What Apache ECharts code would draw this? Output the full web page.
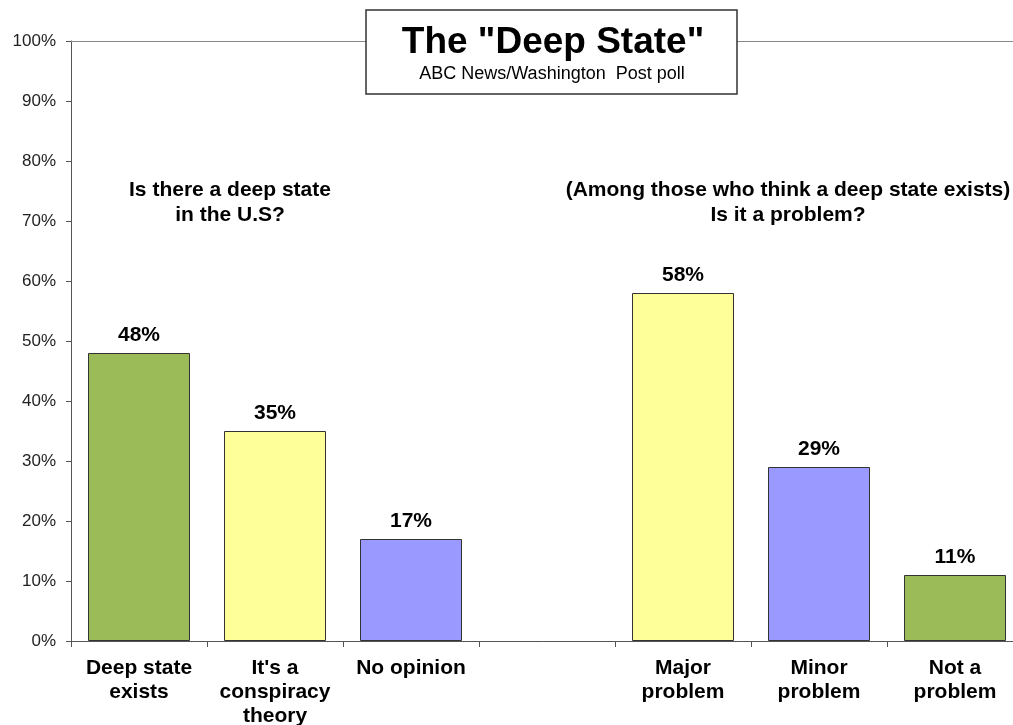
<!DOCTYPE html>
<html><head><meta charset="utf-8">
<script src="https://cdn.jsdelivr.net/npm/echarts@6/dist/echarts.min.js"></script>
<style>html,body{margin:0;padding:0;background:#fff}#c{width:1013px;height:725px}</style>
</head><body><div id="c"></div>
<script>
const categories = ["Deep state\nexists", "It's a\nconspiracy\ntheory", "No opinion", "", "Major\nproblem", "Minor\nproblem", "Not a\nproblem"];
const values = [48, 35, 17, null, 58, 29, 11];
const barColors = ["#9BBB59", "#FFFF99", "#9999FF", "#ffffff", "#FFFF99", "#9999FF", "#9BBB59"];
const yTicks = [0, 10, 20, 30, 40, 50, 60, 70, 80, 90, 100];
const titleText = 'The "Deep State"';
const subtitleText = 'ABC News/Washington  Post poll';
const leftNote = 'Is there a deep state\nin the U.S?';
const rightNote = '(Among those who think a deep state exists)\nIs it a problem?';

const chart = echarts.init(document.getElementById('c'));
const F = 'Liberation Sans, Arial, sans-serif';
chart.setOption({
  animation: false,
  backgroundColor: '#fff',
  grid: {left: 71, width: 952, top: 41, bottom: 84, containLabel: false, outerBoundsMode: 'none'},
  xAxis: [{
    type: 'category', data: categories, position: 'bottom',
    axisLine: {lineStyle: {color: '#555', width: 1}},
    axisTick: {show: true, length: 6, lineStyle: {color: '#555'}},
    axisLabel: {color: '#000', fontFamily: F, fontWeight: 'bold', fontSize: 21, lineHeight: 24, margin: 15, interval: 0}
  }, {
    type: 'category', data: categories, position: 'top',
    axisLine: {lineStyle: {color: '#888', width: 1}},
    axisTick: {show: false}, axisLabel: {show: false}
  }],
  yAxis: {
    type: 'value', min: 0, max: 100, interval: 10,
    axisLine: {show: true, lineStyle: {color: '#555'}},
    axisTick: {show: true, length: 5, lineStyle: {color: '#555'}},
    splitLine: {show: false},
    axisLabel: {color: '#222', fontFamily: F, fontSize: 17, margin: 15, formatter: v => yTicks.includes(v) ? v + '%' : ''}
  },
  series: [{
    type: 'bar', xAxisIndex: 0,
    barCategoryGap: '25%',
    data: values.map((v, i) => ({value: v, itemStyle: {color: barColors[i]}})),
    itemStyle: {borderColor: '#333', borderWidth: 1},
    label: {show: true, position: 'top', distance: 7, formatter: p => p.value + '%', color: '#000', fontFamily: F, fontWeight: 'bold', fontSize: 21}
  }],
  graphic: [
    {type: 'rect', shape: {x: 366, y: 10, width: 371, height: 84}, style: {fill: '#fff', stroke: '#333', lineWidth: 1.5}, z: 100},
    {type: 'text', x: 553, y: 43, style: {text: titleText, font: 'bold 37px ' + F, fill: '#000', textAlign: 'center', textVerticalAlign: 'middle'}, z: 101},
    {type: 'text', x: 552, y: 74, style: {text: subtitleText, font: '18px ' + F, fill: '#000', textAlign: 'center', textVerticalAlign: 'middle'}, z: 101},
    {type: 'text', x: 230, y: 203, style: {text: leftNote, font: 'bold 21px ' + F, lineHeight: 25, fill: '#000', textAlign: 'center', textVerticalAlign: 'middle'}, z: 101},
    {type: 'text', x: 788, y: 203, style: {text: rightNote, font: 'bold 21px ' + F, lineHeight: 25, fill: '#000', textAlign: 'center', textVerticalAlign: 'middle'}, z: 101}
  ]
});
</script></body></html>
